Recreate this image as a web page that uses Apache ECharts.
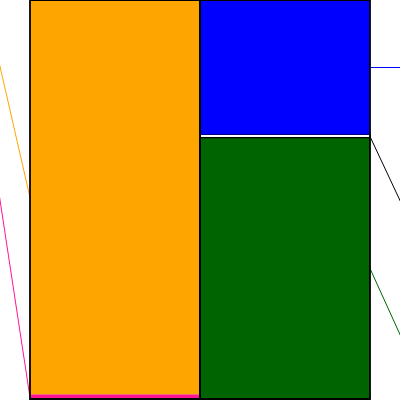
<!DOCTYPE html>
<html>
<head>
<meta charset="utf-8">
<script src="https://cdn.jsdelivr.net/npm/echarts@6/dist/echarts.min.js"></script>
<style>html,body{margin:0;padding:0;background:#fff}#c{width:400px;height:400px}</style>
</head>
<body>
<div id="c"></div>
<script>
// Columns (each column is a 100% stacked bar)
const columns = ['Left', 'Right'];
// Segment names, from bottom to top within their column
const segmentNames = ['Pink', 'Orange', 'Green', 'White', 'Blue'];
const segmentColumn = [0, 0, 1, 1, 1];
const segmentValues = [1.2, 98.8, 65.5, 0.8, 33.7];
const segmentColors = ['#FF1493', '#FFA500', '#006400', '#FFFFFF', '#0000FF'];
const lineColors = ['#FF1493', '#FFA500', '#006400', '#000000', '#0000FF'];

// label guide-line direction (pixels from the anchor, layout only)
const guideOffsets = [[-60, -395], [-60, -262], [60, 132], [60, 128], [60, 0]];

// build stacked data
const stackBase = columns.map(() => 0);
const segData = segmentNames.map((n, i) => {
  const c = segmentColumn[i];
  const s = stackBase[c];
  stackBase[c] += segmentValues[i];
  return { name: n, value: [c, s, s + segmentValues[i], i] };
});
const outlineData = columns.map((c, i) => ({ name: c, value: [i, 0, stackBase[i]] }));

const chart = echarts.init(document.getElementById('c'), null, { renderer: 'canvas' });
chart.setOption({
  animation: false,
  grid: { left: 30, right: 30, top: 0, bottom: 1 },
  xAxis: { type: 'value', min: 0, max: columns.length, show: false },
  yAxis: { type: 'value', min: 0, max: 100, show: false },
  series: [
    {
      type: 'custom',
      data: segData,
      z: 2,
      renderItem: function (params, api) {
        const c = api.value(0), s = api.value(1), e = api.value(2), idx = api.value(3);
        const tl = api.coord([c, e]);
        const br = api.coord([c + 1, s]);
        const midY = Math.round((tl[1] + br[1]) / 2) + 0.5;
        const left = c === 0;
        const ax = left ? tl[0] : br[0];
        const off = guideOffsets[idx];
        const children = [{
          type: 'rect',
          shape: { x: tl[0], y: tl[1], width: br[0] - tl[0], height: br[1] - tl[1] },
          style: segmentColors[idx] === '#FFFFFF'
            ? { fill: '#FFFFFF', stroke: '#000', lineWidth: 1.2 }
            : { fill: segmentColors[idx] }
        }, {
          type: 'line',
          shape: { x1: ax, y1: midY, x2: ax + off[0], y2: midY + off[1] },
          style: { stroke: lineColors[idx], lineWidth: 1 }
        }, {
          type: 'text',
          style: {
            text: segmentNames[idx],
            x: ax + off[0], y: midY + off[1],
            fill: '#000', font: '12px sans-serif',
            align: left ? 'right' : 'left', verticalAlign: 'middle'
          }
        }];
        return { type: 'group', children: children };
      }
    },
    {
      type: 'custom',
      data: outlineData,
      z: 3,
      renderItem: function (params, api) {
        const c = api.value(0);
        const tl = api.coord([c, api.value(2)]);
        const br = api.coord([c + 1, api.value(1)]);
        return {
          type: 'rect',
          shape: { x: tl[0], y: tl[1], width: br[0] - tl[0], height: br[1] - tl[1] },
          style: { fill: null, stroke: '#000', lineWidth: 1.8 }
        };
      }
    }
  ]
});
</script>
</body>
</html>
